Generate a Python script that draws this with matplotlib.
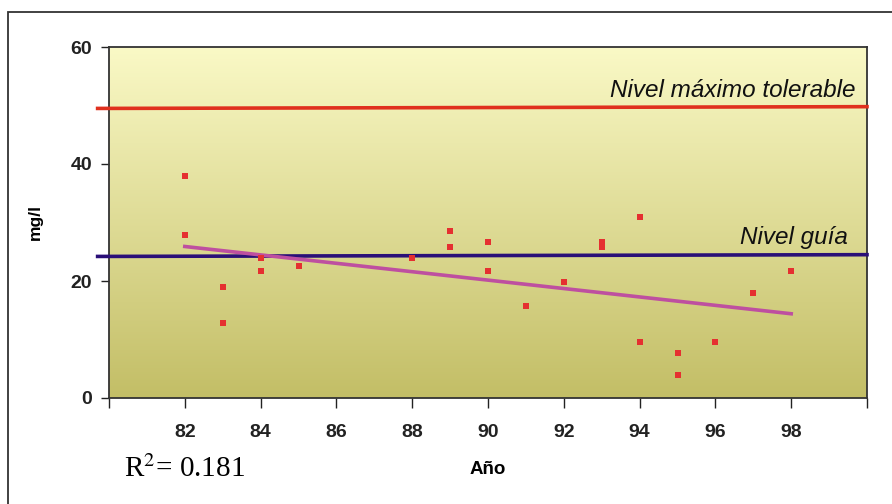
import matplotlib
matplotlib.use("Agg")
import matplotlib.pyplot as plt
from matplotlib.colors import LinearSegmentedColormap
from matplotlib.patches import Rectangle
import numpy as np

plt.rcParams['font.family'] = ['Liberation Sans', 'DejaVu Sans']
plt.rcParams['mathtext.fontset'] = 'stix'

# Datos
anios = [82, 82, 83, 83, 84, 84, 85, 88, 89, 89, 90, 90, 91, 92, 93, 93,
         94, 94, 95, 95, 96, 97, 98]
valores = [37.9, 27.8, 18.9, 12.8, 23.9, 21.7, 22.6, 23.9, 28.6, 25.8, 26.7, 21.7,
           15.7, 19.8, 26.7, 25.8, 30.9, 9.6, 7.7, 3.9, 9.6, 17.9, 21.7]

# Línea de tendencia (extremos leídos)
tendencia_x = [82, 98]
tendencia_y = [25.9, 14.4]

# Niveles de referencia
limites_x = [79.7, 100]
nivel_max = [49.5, 49.8]
nivel_guia = [24.2, 24.5]

ticks_x = list(range(80, 101, 2))
etiquetas_x = [''] + [str(t) for t in range(82, 99, 2)] + ['']
ticks_y = [0, 20, 40, 60]

fig = plt.figure(figsize=(8.92, 5.04), dpi=100)
ax = fig.add_axes([109 / 892, 1 - 398 / 504, 758 / 892, 351 / 504])

# marco exterior de la figura
fig.patches.append(Rectangle((8 / 892, -0.1), 1.2, 1.1 - 12 / 504,
                             transform=fig.transFigure, fill=False,
                             edgecolor='#333333', linewidth=1.3))

# fondo degradado
degradado = LinearSegmentedColormap.from_list('fondo', ['#C3BE66', '#FAF9C6'])
ax.imshow(np.linspace(0, 1, 256).reshape(-1, 1), cmap=degradado, aspect='auto',
          extent=[80, 100, 0, 60], origin='lower', zorder=0)

ax.plot(limites_x, nivel_max, color='#E0301E', linewidth=2.6, clip_on=False, zorder=3)
ax.plot(limites_x, nivel_guia, color='#2A0F78', linewidth=2.6, clip_on=False, zorder=3)
ax.plot(tendencia_x, tendencia_y, color='#BE4FA0', linewidth=2.6, zorder=4)
ax.scatter(anios, valores, marker='s', s=14, color='#E53030', linewidths=0, zorder=5)

ax.text(99.7, 50.6, 'Nivel máximo tolerable', style='italic', fontsize=17.5,
        ha='right', va='bottom', color='#111111')
ax.text(99.5, 25.4, 'Nivel guía', style='italic', fontsize=17.5,
        ha='right', va='bottom', color='#111111')

ax.set_xlim(80, 100)
ax.set_ylim(0, 60)
ax.set_xticks(ticks_x)
ax.set_xticklabels(etiquetas_x, fontweight='bold', fontsize=14)
ax.set_yticks(ticks_y)
ax.set_yticklabels([str(t) for t in ticks_y], fontweight='bold', fontsize=14)
ax.tick_params(axis='x', length=7, width=1, pad=12, colors='#222222')
ax.tick_params(axis='y', length=6, width=1, pad=6, colors='#222222')
for lado in ax.spines.values():
    lado.set_color('#333333')
    lado.set_linewidth(1.3)

ax.set_ylabel('mg/l', fontweight='bold', fontsize=12.5, labelpad=20)
ax.set_xlabel('Año', fontweight='bold', fontsize=13.5, labelpad=14)

fig.text(124 / 892, 1 - 477 / 504, r'R$^2$= 0.181', family='Liberation Serif',
         fontsize=21, ha='left', va='baseline')

fig.savefig('out.png', dpi=100)
